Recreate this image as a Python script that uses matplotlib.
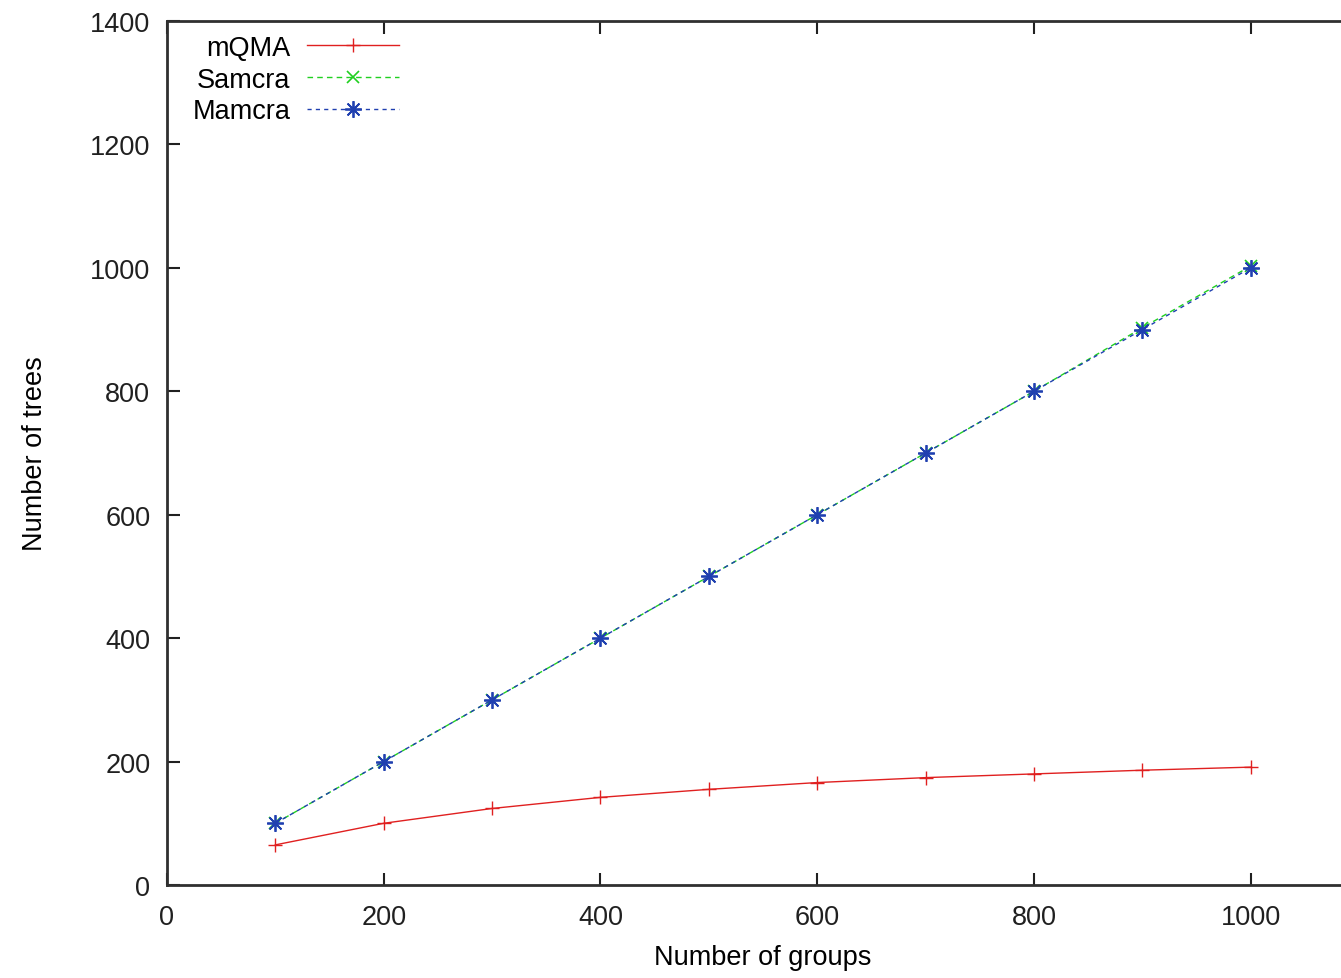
import matplotlib
matplotlib.use("Agg")
import matplotlib.pyplot as plt

groups = [100, 200, 300, 400, 500, 600, 700, 800, 900, 1000]
mqma = [65, 100, 124, 142, 155, 166, 174, 180, 186, 191]
samcra = [100, 200, 300, 400, 500, 600, 700, 800, 903, 1003]
mamcra = [100, 200, 300, 400, 500, 600, 700, 800, 900, 1000]

plt.rcParams['font.family'] = ['Liberation Sans', 'DejaVu Sans']

fig = plt.figure(figsize=(13.41, 9.79), dpi=100)
# right edge of the axes sits past the image border, like the cropped original
ax = fig.add_axes([0.1245, 0.095, 0.889, 0.8825])

ax.plot(groups, mqma, color='#e02020', lw=1.0, marker='+', ms=10, mew=1.0, label='mQMA')
ax.plot(groups, samcra, color='#20d020', lw=1.0, ls=(0, (4, 3)), marker='x', ms=9, mew=1.2, label='Samcra')
ax.plot(groups, mamcra, color='#2040b0', lw=1.0, ls=(0, (3, 3)), marker=(8, 2, 0), ms=12, mew=1.3, label='Mamcra')

ax.set_xlim(0, 1100)
ax.set_ylim(0, 1400)
ax.set_xticks([0, 200, 400, 600, 800, 1000])
ax.set_yticks([0, 200, 400, 600, 800, 1000, 1200, 1400])
ax.tick_params(direction='in', length=9, width=1.5, labelsize=19.5, pad=12,
               top=True, right=True, colors='#202020')
ax.tick_params(axis='x', pad=14)
for s in ax.spines.values():
    s.set_linewidth(2.0)
    s.set_color('#303030')

ax.set_xlabel('Number of groups', fontsize=19.5, labelpad=10)
ax.set_ylabel('Number of trees', fontsize=19.5, labelpad=30)

leg = ax.legend(loc='upper left', markerfirst=False, frameon=False, fontsize=19.5,
                handlelength=3.4, labelspacing=0.22, handletextpad=0.6,
                borderaxespad=0.1, bbox_to_anchor=(0.01, 1.0))

fig.savefig('out.png', dpi=100)
